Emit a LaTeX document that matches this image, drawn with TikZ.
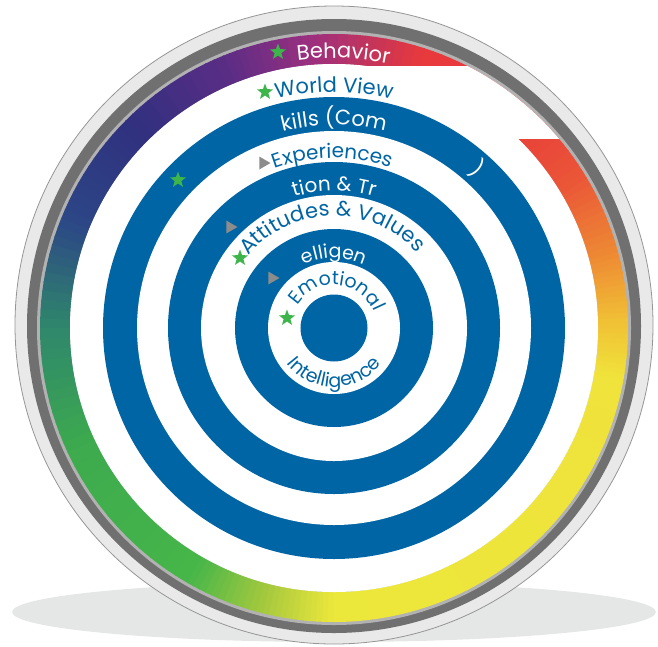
\documentclass[tikz,border=0pt]{standalone}
\usepackage{fontspec}
\setmainfont{Poppins}
\usetikzlibrary{shapes.geometric,decorations.text}

\definecolor{ringblue}{RGB}{0,101,164}
\definecolor{stargreen}{RGB}{61,181,74}
\definecolor{trigray}{RGB}{140,140,140}
\definecolor{shadowgray}{RGB}{229,231,231}
\definecolor{rimlight}{RGB}{233,233,233}
\definecolor{rimedge}{RGB}{150,150,150}
\definecolor{rimdark}{RGB}{112,112,112}
\definecolor{rimmid}{RGB}{178,178,178}
\definecolor{cRed}{HTML}{E8393C}
\definecolor{cMag}{HTML}{9B2F7F}
\definecolor{cPur}{HTML}{5C2D85}
\definecolor{cInd}{HTML}{30307F}
\definecolor{cBlu}{HTML}{2C4786}
\definecolor{cTeal}{HTML}{2F876C}
\definecolor{cGrn}{HTML}{3DAA4E}
\definecolor{cGrnB}{HTML}{46B649}
\definecolor{cYG}{HTML}{A6C93E}
\definecolor{cYel}{HTML}{ECE73B}
\definecolor{cYelB}{HTML}{F0E33B}
\definecolor{cYO}{HTML}{F0BE35}
\definecolor{cOr}{HTML}{EE8A33}
\definecolor{cOrB}{HTML}{EA5537}

% text on a ring, read over the top / under the bottom
\newcommand{\toptext}[5]{%
  \path[decorate,decoration={text along path,text align=center,text color=#1,
      text={|\fontsize{#2}{#2}\selectfont|#5}}]
    ([shift={(C)}]#4+85:#3pt) arc[start angle=#4+85,end angle=#4-85,radius=#3pt];}
\newcommand{\bottext}[5]{%
  \path[decorate,decoration={text along path,text align=center,text color=#1,
      text={|\fontsize{#2}{#2}\selectfont|#5}}]
    ([shift={(C)}]#4-85:#3pt) arc[start angle=#4-85,end angle=#4+85,radius=#3pt];}

\begin{document}
\begin{tikzpicture}[x=1pt,y=-1pt,
    greenstar/.style={star,star points=5,star point ratio=2.4,fill=stargreen,
      draw=none,inner sep=0pt,minimum size=17pt},
    graytri/.style={regular polygon,regular polygon sides=3,shape border rotate=-90,
      fill=trigray,draw=none,inner sep=0pt,minimum size=15pt}]
  \useasboundingbox (0,0) rectangle (658,646);
  \coordinate (C) at (334,328);

  % shadow and rim
  \fill[shadowgray] (334,612) ellipse[x radius=322pt,y radius=30pt];
  \fill[rimlight] (334,325) circle[radius=319pt];
  \draw[rimedge,line width=0.8pt] (334,325) circle[radius=319pt];
  \fill[rimdark] (334,326) circle[radius=307pt];
  \fill[rimmid] (C) circle[radius=297pt];

  % coloured ring
  \foreach \aa/\ab/\ca/\cb in {50/72/cRed/cRed,72/95/cRed/cMag,95/112/cMag/cPur,
      112/135/cPur/cInd,135/158/cInd/cBlu,158/180/cBlu/cTeal,180/205/cTeal/cGrn,
      205/240/cGrn/cGrnB,240/256/cGrnB/cYG,256/270/cYG/cYel,270/350/cYel/cYelB,
      350/362/cYelB/cYO,362/375/cYO/cOr,375/392/cOr/cOrB,392/412/cOrB/cRed}{
    \foreach \k in {0,...,11}{
      \pgfmathsetmacro\angA{\aa+(\ab-\aa)*\k/12}
      \pgfmathsetmacro\angB{\aa+(\ab-\aa)*(\k+1)/12+0.3}
      \pgfmathtruncatemacro\mix{100-(\k+0.5)*100/12}
      \fill[\ca!\mix!\cb] ([shift={(C)}]\angA:264pt)
        arc[start angle=\angA,end angle=\angB,radius=264pt]
        -- ([shift={(C)}]\angB:294pt)
        arc[start angle=\angB,end angle=\angA,radius=294pt] -- cycle;
    }
  }
  \begin{scope}
    \clip (C) circle[radius=294pt];
    \fill[white] (365,66) rectangle (620,139);
  \end{scope}

  % target rings
  \foreach \r/\c in {264/white,231/ringblue,197/white,166/ringblue,133/white,
      99/ringblue,66/white,33.5/ringblue}
    \fill[\c] (C) circle[radius=\r pt];

  % labels
  \toptext{white}{21}{270}{88}{Behavior}
  \toptext{ringblue}{21}{236}{90}{World View}
  \toptext{white}{21}{203}{90}{kills (Com}
  \toptext{ringblue}{20}{170}{90.5}{Experiences}
  \toptext{white}{20}{137}{90}{tion {\&} Tr}
  \toptext{ringblue}{21}{112}{91}{Attitudes {\&} Values}
  \toptext{white}{19}{70}{90}{elligen}
  \toptext{ringblue}{19}{43}{85}{Emotional}
  \bottext{ringblue}{19}{59}{270}{Intelligence}
  \node[text=white,rotate=-42,font=\fontsize{21}{21}\selectfont] (paren)
    at ([shift={(C)}]48:214pt) {)};

  % markers
  \node[greenstar] (starbeh) at (278,52) {};
  \node[greenstar] (starwv) at (265,92) {};
  \node[greenstar] (starsk) at (178,180) {};
  \node[greenstar] (staratt) at (240,258) {};
  \node[greenstar] (staremo) at (287,318) {};
  \node[graytri] (triexp) at (263,163) {};
  \node[graytri] (triatt) at (230,227) {};
  \node[graytri] (triemo) at (272,278) {};
\end{tikzpicture}
\end{document}
